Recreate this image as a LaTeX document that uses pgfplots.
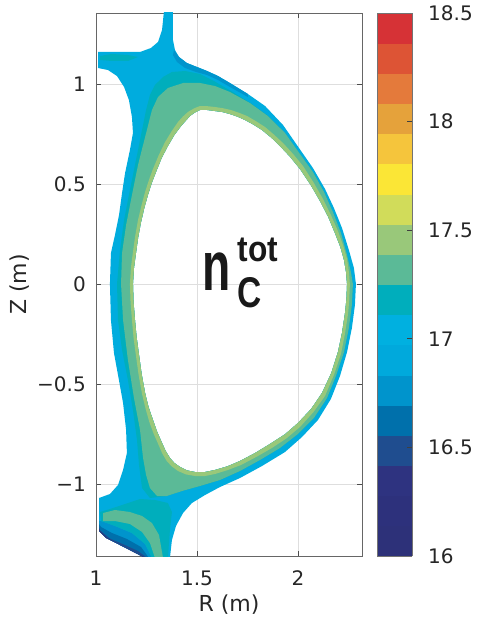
\documentclass[border=0pt]{standalone}
\usepackage{pgfplots}
\pgfplotsset{compat=1.18}
\usepackage{graphicx}
\usepackage{fontspec}
\setmainfont{DejaVu Sans}
\newfontfamily\annfont{Liberation Sans}
\definecolor{tc}{RGB}{38,38,38}
\definecolor{cblue}{RGB}{0,172,222}
\definecolor{cteal}{RGB}{0,174,188}
\definecolor{cgreen}{RGB}{91,186,151}
\definecolor{clgreen}{RGB}{153,200,122}
\definecolor{cmid}{RGB}{0,148,204}
\definecolor{cdark}{RGB}{0,112,171}
\definecolor{cdarker}{RGB}{31,77,143}
\definecolor{cnavy}{RGB}{45,49,121}
\begin{document}
\begin{tikzpicture}
\useasboundingbox (-96pt,-66pt) rectangle (385pt,556pt);
\begin{axis}[
  at={(0,0)}, anchor=south west,
  scale only axis, width=266pt, height=543pt,
  xmin=1, xmax=2.317, ymin=-1.36, ymax=1.355,
  xtick={1,1.5,2}, ytick={-1,-0.5,0,0.5,1},
  yticklabels={−1,−0.5,0,0.5,1},
  xtick pos=both, ytick pos=both,
  grid=major, major grid style={draw=black!13, line width=0.6pt},
  tick align=inside, major tick length=5pt,
  tick style={draw=black!70, line width=0.6pt},
  axis line style={draw=black!60, line width=0.7pt},
  /pgf/number format/assume math mode=true,
  xticklabel style={font=\fontsize{20}{24}\selectfont, text=tc, anchor=base, inner sep=0pt, yshift=-29pt},
  yticklabel style={font=\fontsize{20}{24}\selectfont, text=tc, anchor=east, inner sep=0pt, xshift=-10pt},
  xlabel={R (m)}, ylabel={Z (m)},
  xlabel style={font=\fontsize{22}{26}\selectfont, text=tc, at={(axis description cs:0.5,0)}, anchor=center, yshift=-49pt},
  ylabel style={font=\fontsize{22}{26}\selectfont, text=tc, at={(axis description cs:0,0.5)}, anchor=center, yshift=76pt},
  colorbar,
  colormap={cbmap}{rgb255=(45,49,121) rgb255=(45,49,124) rgb255=(46,51,128) rgb255=(31,77,143) rgb255=(0,112,171) rgb255=(0,148,204) rgb255=(0,169,220) rgb255=(0,176,224) rgb255=(0,174,188) rgb255=(91,186,151) rgb255=(153,200,122) rgb255=(209,220,90) rgb255=(251,230,54) rgb255=(245,197,60) rgb255=(229,162,59) rgb255=(228,122,59) rgb255=(221,84,53) rgb255=(214,50,54)},
  colormap access=piecewise constant,
  point meta min=16, point meta max=18.5,
  colorbar style={
    at={(parent axis.north east)}, anchor=north west, xshift=6.5pt,
    scale only axis, width=35pt, height=543pt,
    ytick={16,16.5,17,17.5,18,18.5},
    ytick pos=right, yticklabel pos=right, tick align=inside, major tick length=5pt,
    tick style={draw=black!75, line width=0.6pt},
    axis line style={draw=black!55, line width=0.7pt},
    /pgf/number format/assume math mode=true,
    yticklabel style={font=\fontsize{20}{24}\selectfont, text=tc, anchor=west, inner sep=0pt, xshift=16pt},
  },
]
% outer SOL region (blue) minus core
\addplot[fill=cblue, draw=none, even odd rule] coordinates {
(2.287,0.0) (2.282,-0.105) (2.267,-0.22) (2.243,-0.34) (2.208,-0.46) (2.163,-0.575) (2.099,-0.68) (2.020,-0.765) (1.936,-0.84) (1.822,-0.91) (1.713,-0.97) (1.614,-1.015) (1.540,-1.055) (1.475,-1.095) (1.431,-1.145) (1.396,-1.21) (1.376,-1.28) (1.366,-1.37) (1.243,-1.37) (1.178,-1.335) (1.109,-1.30) (1.050,-1.27) (1.015,-1.235) (1.015,-1.07) (1.069,-1.05) (1.109,-1.005) (1.134,-0.93) (1.153,-0.845) (1.149,-0.73) (1.134,-0.595) (1.109,-0.455) (1.089,-0.345) (1.074,-0.18) (1.069,0.0) (1.074,0.155) (1.094,0.245) (1.114,0.345) (1.129,0.455) (1.144,0.555) (1.168,0.67) (1.183,0.755) (1.178,0.835) (1.163,0.92) (1.139,0.985) (1.104,1.04) (1.059,1.07) (1.010,1.08) (1.010,1.16) (1.218,1.16) (1.272,1.18) (1.307,1.21) (1.327,1.27) (1.337,1.37) (1.381,1.37) (1.381,1.22) (1.391,1.17) (1.411,1.135) (1.450,1.105) (1.500,1.085) (1.550,1.065) (1.604,1.04) (1.663,1.005) (1.752,0.95) (1.837,0.89) (1.926,0.795) (2.005,0.68) (2.074,0.58) (2.134,0.475) (2.178,0.38) (2.218,0.28) (2.252,0.17) (2.277,0.08) (2.287,0.0)
(2.243,0.0) (2.240,-0.075) (2.233,-0.145) (2.218,-0.245) (2.198,-0.34) (2.165,-0.445) (2.119,-0.545) (2.065,-0.625) (2.000,-0.695) (1.935,-0.752) (1.861,-0.80) (1.788,-0.845) (1.713,-0.885) (1.650,-0.912) (1.589,-0.93) (1.540,-0.94) (1.490,-0.94) (1.450,-0.932) (1.416,-0.915) (1.388,-0.895) (1.366,-0.87) (1.345,-0.835) (1.327,-0.795) (1.303,-0.74) (1.282,-0.68) (1.260,-0.615) (1.243,-0.545) (1.226,-0.45) (1.213,-0.355) (1.201,-0.265) (1.193,-0.18) (1.186,-0.09) (1.183,0.0) (1.188,0.08) (1.198,0.155) (1.209,0.235) (1.223,0.31) (1.239,0.38) (1.257,0.445) (1.276,0.505) (1.297,0.56) (1.325,0.63) (1.356,0.69) (1.388,0.745) (1.421,0.79) (1.465,0.84) (1.490,0.858) (1.515,0.87) (1.552,0.87) (1.589,0.865) (1.626,0.86) (1.663,0.85) (1.700,0.837) (1.738,0.82) (1.780,0.797) (1.822,0.77) (1.868,0.732) (1.911,0.69) (1.962,0.635) (2.010,0.575) (2.062,0.497) (2.109,0.415) (2.150,0.335) (2.183,0.255) (2.210,0.185) (2.228,0.12) (2.238,0.06) (2.243,0.0)
} -- cycle;
% dark layers at the lower-left edge
\addplot[fill=cmid, draw=none] coordinates {(1.015,-1.185) (1.015,-1.235) (1.050,-1.27) (1.109,-1.30) (1.178,-1.335) (1.243,-1.37) (1.277,-1.37) (1.243,-1.30) (1.178,-1.245) (1.094,-1.21) (1.025,-1.185)} -- cycle;
\addplot[fill=cdark, draw=none] coordinates {(1.015,-1.20) (1.015,-1.235) (1.050,-1.27) (1.109,-1.30) (1.178,-1.335) (1.243,-1.37) (1.262,-1.37) (1.223,-1.315) (1.153,-1.275) (1.079,-1.245) (1.025,-1.215)} -- cycle;
\addplot[fill=cdarker, draw=none] coordinates {(1.015,-1.212) (1.015,-1.235) (1.050,-1.27) (1.109,-1.30) (1.178,-1.335) (1.243,-1.37) (1.254,-1.37) (1.208,-1.335) (1.139,-1.303) (1.069,-1.273) (1.020,-1.232)} -- cycle;
\addplot[fill=cnavy, draw=none] coordinates {(1.015,-1.222) (1.015,-1.235) (1.050,-1.27) (1.109,-1.30) (1.178,-1.335) (1.243,-1.37) (1.249,-1.37) (1.190,-1.343) (1.120,-1.305) (1.055,-1.27) (1.018,-1.232)} -- cycle;
% lower divertor teal and green streak
\addplot[fill=cteal, draw=none] coordinates {(1.020,-1.14) (1.069,-1.125) (1.144,-1.10) (1.218,-1.075) (1.292,-1.08) (1.356,-1.095) (1.376,-1.14) (1.366,-1.23) (1.356,-1.37) (1.277,-1.37) (1.243,-1.30) (1.178,-1.245) (1.094,-1.21) (1.025,-1.185)} -- cycle;
\addplot[fill=cgreen, draw=none] coordinates {(1.035,-1.145) (1.094,-1.13) (1.168,-1.14) (1.228,-1.16) (1.277,-1.195) (1.312,-1.255) (1.332,-1.37) (1.292,-1.37) (1.267,-1.295) (1.228,-1.24) (1.168,-1.20) (1.094,-1.185) (1.035,-1.185)} -- cycle;
% teal band minus core
\addplot[fill=cteal, draw=none, even odd rule] coordinates {
(2.272,0.0) (2.267,-0.105) (2.252,-0.22) (2.228,-0.34) (2.188,-0.46) (2.144,-0.57) (2.079,-0.67) (2.000,-0.75) (1.911,-0.82) (1.812,-0.88) (1.713,-0.935) (1.614,-0.98) (1.515,-1.01) (1.426,-1.035) (1.351,-1.06) (1.267,-1.07) (1.228,-1.02) (1.213,-0.905) (1.203,-0.78) (1.183,-0.63) (1.158,-0.48) (1.129,-0.33) (1.109,-0.18) (1.104,0.0) (1.119,0.17) (1.139,0.32) (1.163,0.445) (1.188,0.57) (1.213,0.695) (1.233,0.795) (1.248,0.87) (1.267,0.945) (1.292,0.995) (1.332,1.035) (1.376,1.06) (1.441,1.065) (1.515,1.05) (1.589,1.012) (1.663,0.968) (1.762,0.907) (1.851,0.842) (1.936,0.755) (2.010,0.65) (2.074,0.56) (2.129,0.46) (2.173,0.36) (2.213,0.255) (2.243,0.145) (2.262,0.06) (2.272,0.0)
(2.243,0.0) (2.240,-0.075) (2.233,-0.145) (2.218,-0.245) (2.198,-0.34) (2.165,-0.445) (2.119,-0.545) (2.065,-0.625) (2.000,-0.695) (1.935,-0.752) (1.861,-0.80) (1.788,-0.845) (1.713,-0.885) (1.650,-0.912) (1.589,-0.93) (1.540,-0.94) (1.490,-0.94) (1.450,-0.932) (1.416,-0.915) (1.388,-0.895) (1.366,-0.87) (1.345,-0.835) (1.327,-0.795) (1.303,-0.74) (1.282,-0.68) (1.260,-0.615) (1.243,-0.545) (1.226,-0.45) (1.213,-0.355) (1.201,-0.265) (1.193,-0.18) (1.186,-0.09) (1.183,0.0) (1.188,0.08) (1.198,0.155) (1.209,0.235) (1.223,0.31) (1.239,0.38) (1.257,0.445) (1.276,0.505) (1.297,0.56) (1.325,0.63) (1.356,0.69) (1.388,0.745) (1.421,0.79) (1.465,0.84) (1.490,0.858) (1.515,0.87) (1.552,0.87) (1.589,0.865) (1.626,0.86) (1.663,0.85) (1.700,0.837) (1.738,0.82) (1.780,0.797) (1.822,0.77) (1.868,0.732) (1.911,0.69) (1.962,0.635) (2.010,0.575) (2.062,0.497) (2.109,0.415) (2.150,0.335) (2.183,0.255) (2.210,0.185) (2.228,0.12) (2.238,0.06) (2.243,0.0)
} -- cycle;
% green band minus core
\addplot[fill=cgreen, draw=none, even odd rule] coordinates {
(2.272,0.0) (2.267,-0.105) (2.252,-0.22) (2.228,-0.34) (2.188,-0.46) (2.144,-0.57) (2.079,-0.67) (2.000,-0.75) (1.911,-0.82) (1.812,-0.88) (1.713,-0.935) (1.614,-0.98) (1.515,-1.01) (1.426,-1.035) (1.351,-1.06) (1.302,-1.06) (1.267,-1.02) (1.248,-0.955) (1.233,-0.87) (1.218,-0.73) (1.188,-0.57) (1.158,-0.38) (1.134,-0.18) (1.124,0.0) (1.129,0.155) (1.149,0.295) (1.178,0.445) (1.208,0.595) (1.233,0.695) (1.252,0.77) (1.277,0.87) (1.307,0.935) (1.356,0.98) (1.431,1.005) (1.515,1.005) (1.589,0.99) (1.663,0.96) (1.762,0.905) (1.851,0.84) (1.936,0.755) (2.010,0.65) (2.074,0.56) (2.129,0.46) (2.173,0.36) (2.213,0.255) (2.243,0.145) (2.262,0.06) (2.272,0.0)
(2.243,0.0) (2.240,-0.075) (2.233,-0.145) (2.218,-0.245) (2.198,-0.34) (2.165,-0.445) (2.119,-0.545) (2.065,-0.625) (2.000,-0.695) (1.935,-0.752) (1.861,-0.80) (1.788,-0.845) (1.713,-0.885) (1.650,-0.912) (1.589,-0.93) (1.540,-0.94) (1.490,-0.94) (1.450,-0.932) (1.416,-0.915) (1.388,-0.895) (1.366,-0.87) (1.345,-0.835) (1.327,-0.795) (1.303,-0.74) (1.282,-0.68) (1.260,-0.615) (1.243,-0.545) (1.226,-0.45) (1.213,-0.355) (1.201,-0.265) (1.193,-0.18) (1.186,-0.09) (1.183,0.0) (1.188,0.08) (1.198,0.155) (1.209,0.235) (1.223,0.31) (1.239,0.38) (1.257,0.445) (1.276,0.505) (1.297,0.56) (1.325,0.63) (1.356,0.69) (1.388,0.745) (1.421,0.79) (1.465,0.84) (1.490,0.858) (1.515,0.87) (1.552,0.87) (1.589,0.865) (1.626,0.86) (1.663,0.85) (1.700,0.837) (1.738,0.82) (1.780,0.797) (1.822,0.77) (1.868,0.732) (1.911,0.69) (1.962,0.635) (2.010,0.575) (2.062,0.497) (2.109,0.415) (2.150,0.335) (2.183,0.255) (2.210,0.185) (2.228,0.12) (2.238,0.06) (2.243,0.0)
} -- cycle;
% light green ring at the separatrix
\addplot[fill=clgreen, draw=none, even odd rule] coordinates {
(2.257,0.0) (2.254,-0.08) (2.248,-0.15) (2.232,-0.252) (2.213,-0.35) (2.178,-0.455) (2.134,-0.56) (2.077,-0.64) (2.010,-0.715) (1.943,-0.772) (1.871,-0.82) (1.795,-0.864) (1.718,-0.905) (1.653,-0.93) (1.589,-0.95) (1.540,-0.96) (1.490,-0.96) (1.445,-0.952) (1.406,-0.935) (1.375,-0.912) (1.350,-0.885) (1.328,-0.847) (1.310,-0.805) (1.286,-0.75) (1.264,-0.69) (1.245,-0.622) (1.228,-0.55) (1.211,-0.455) (1.198,-0.36) (1.186,-0.27) (1.178,-0.18) (1.171,-0.09) (1.168,0.0) (1.173,0.083) (1.183,0.16) (1.194,0.24) (1.208,0.32) (1.225,0.392) (1.243,0.46) (1.262,0.52) (1.282,0.575) (1.311,0.645) (1.342,0.71) (1.374,0.763) (1.406,0.81) (1.430,0.837) (1.455,0.86) (1.485,0.878) (1.515,0.89) (1.552,0.889) (1.589,0.885) (1.628,0.879) (1.668,0.87) (1.708,0.856) (1.748,0.84) (1.792,0.814) (1.837,0.785) (1.882,0.746) (1.926,0.705) (1.976,0.65) (2.025,0.59) (2.077,0.508) (2.124,0.425) (2.164,0.343) (2.198,0.265) (2.224,0.192) (2.243,0.125) (2.252,0.062) (2.257,0.0)
(2.243,0.0) (2.240,-0.075) (2.233,-0.145) (2.218,-0.245) (2.198,-0.34) (2.165,-0.445) (2.119,-0.545) (2.065,-0.625) (2.000,-0.695) (1.935,-0.752) (1.861,-0.80) (1.788,-0.845) (1.713,-0.885) (1.650,-0.912) (1.589,-0.93) (1.540,-0.94) (1.490,-0.94) (1.450,-0.932) (1.416,-0.915) (1.388,-0.895) (1.366,-0.87) (1.345,-0.835) (1.327,-0.795) (1.303,-0.74) (1.282,-0.68) (1.260,-0.615) (1.243,-0.545) (1.226,-0.45) (1.213,-0.355) (1.201,-0.265) (1.193,-0.18) (1.186,-0.09) (1.183,0.0) (1.188,0.08) (1.198,0.155) (1.209,0.235) (1.223,0.31) (1.239,0.38) (1.257,0.445) (1.276,0.505) (1.297,0.56) (1.325,0.63) (1.356,0.69) (1.388,0.745) (1.421,0.79) (1.465,0.84) (1.490,0.858) (1.515,0.87) (1.552,0.87) (1.589,0.865) (1.626,0.86) (1.663,0.85) (1.700,0.837) (1.738,0.82) (1.780,0.797) (1.822,0.77) (1.868,0.732) (1.911,0.69) (1.962,0.635) (2.010,0.575) (2.062,0.497) (2.109,0.415) (2.150,0.335) (2.183,0.255) (2.210,0.185) (2.228,0.12) (2.238,0.06) (2.243,0.0)
} -- cycle;
% upper details
\addplot[fill=cteal, draw=none] coordinates {(1.020,1.14) (1.079,1.15) (1.158,1.145) (1.208,1.135) (1.158,1.115) (1.079,1.115) (1.020,1.12)} -- cycle;
\addplot[fill=cmid, draw=none] coordinates {(1.386,1.17) (1.411,1.135) (1.450,1.105) (1.500,1.085) (1.550,1.065) (1.604,1.04) (1.663,1.005) (1.752,0.95) (1.752,0.935) (1.663,0.985) (1.604,1.02) (1.550,1.045) (1.495,1.06) (1.441,1.08) (1.401,1.11) (1.381,1.145)} -- cycle;
% label
\node[anchor=base west, inner sep=0pt, text=black!90] at (axis cs:1.525,-0.03) {\annfont\bfseries\scalebox{0.66}[1]{\fontsize{70}{70}\selectfont n}\hspace{7pt}\rlap{\raisebox{29pt}{\scalebox{0.88}[1]{\fontsize{36}{36}\selectfont tot}}}\raisebox{-17pt}{\scalebox{0.78}[1]{\fontsize{43}{43}\selectfont C}}};
\end{axis}
\end{tikzpicture}
\end{document}
